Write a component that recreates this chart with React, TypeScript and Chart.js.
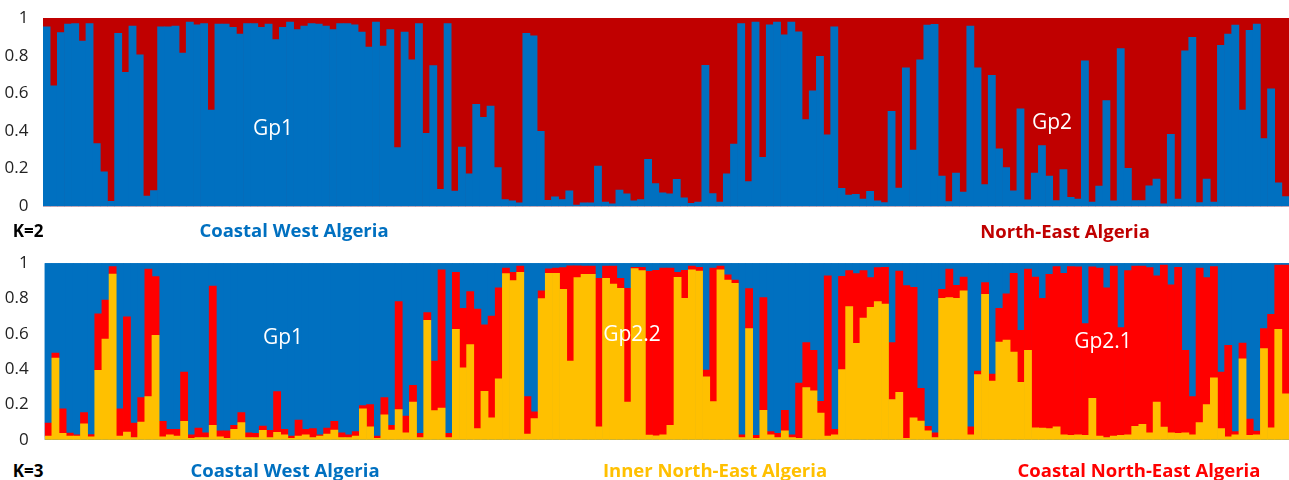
import React, { useEffect, useRef } from "react";
import { Chart, registerables } from "chart.js";

Chart.register(...registerables);

// ---------- DATA ----------
// K=2 : proportion of cluster "Gp1" (blue) per individual; remainder is Gp2 (dark red)
const k2Blue: number[] = [
  0.953, 0.64, 0.923, 0.968, 0.971, 0.878, 0.971, 0.333, 0.183, 0.027,
  0.918, 0.711, 0.957, 0.805, 0.054, 0.084, 0.953, 0.953, 0.957, 0.814,
  0.978, 0.964, 0.971, 0.511, 0.968, 0.968, 0.95, 0.914, 0.971, 0.971,
  0.95, 0.968, 0.885, 0.95, 0.978, 0.939, 0.957, 0.971, 0.968, 0.957,
  0.939, 0.971, 0.971, 0.964, 0.925, 0.846, 0.978, 0.851, 0.939, 0.312,
  0.925, 0.778, 0.971, 0.387, 0.747, 0.09, 0.971, 0.081, 0.315, 0.172,
  0.541, 0.473, 0.532, 0.206, 0.036, 0.029, 0.018, 0.919, 0.905, 0.398,
  0.032, 0.05, 0.036, 0.082, 0.007, 0.018, 0.018, 0.213, 0.022, 0.013,
  0.086, 0.066, 0.029, 0.036, 0.249, 0.12, 0.072, 0.066, 0.143, 0.045,
  0.016, 0.022, 0.749, 0.068, 0.023, 0.172, 0.33, 0.971, 0.131, 0.978,
  0.26, 0.964, 0.978, 0.91, 0.978, 0.927, 0.461, 0.613, 0.797, 0.38,
  0.953, 0.095, 0.059, 0.063, 0.039, 0.079, 0.029, 0.02, 0.505, 0.097,
  0.735, 0.299, 0.778, 0.962, 0.966, 0.161, 0.025, 0.177, 0.075, 0.957,
  0.735, 0.116, 0.695, 0.305, 0.206, 0.082, 0.518, 0.034, 0.177, 0.323,
  0.161, 0.03, 0.195, 0.048, 0.038, 0.772, 0.023, 0.108, 0.561, 0.029,
  0.837, 0.201, 0.03, 0.03, 0.109, 0.145, 0.013, 0.382, 0.039, 0.826,
  0.898, 0.02, 0.145, 0.023, 0.855, 0.914, 0.962, 0.511, 0.935, 0.968,
  0.36, 0.624, 0.124, 0.052,
];

// K=3 : yellow (Gp2.2) proportion, at the bottom of each bar
const k3Yellow: number[] = [
  0.021, 0.463, 0.036, 0.021, 0.021, 0.091, 0.017, 0.393, 0.571, 0.939,
  0.021, 0.044, 0.013, 0.1, 0.245, 0.592, 0.017, 0.028, 0.021, 0.104,
  0.009, 0.013, 0.013, 0.082, 0.017, 0.009, 0.059, 0.097, 0.013, 0.013,
  0.053, 0.013, 0.042, 0.028, 0.009, 0.021, 0.028, 0.013, 0.021, 0.032,
  0.055, 0.013, 0.013, 0.021, 0.175, 0.074, 0.009, 0.142, 0.055, 0.171,
  0.04, 0.213, 0.013, 0.676, 0.165, 0.18, 0.013, 0.626, 0.408, 0.539,
  0.063, 0.275, 0.125, 0.345, 0.941, 0.901, 0.949, 0.032, 0.12, 0.799,
  0.943, 0.943, 0.852, 0.446, 0.918, 0.937, 0.937, 0.074, 0.915, 0.882,
  0.858, 0.213, 0.97, 0.958, 0.027, 0.023, 0.028, 0.082, 0.92, 0.801,
  0.962, 0.956, 0.357, 0.216, 0.962, 0.905, 0.886, 0.013, 0.63, 0.009,
  0.167, 0.028, 0.013, 0.051, 0.013, 0.009, 0.296, 0.277, 0.152, 0.021,
  0.028, 0.397, 0.755, 0.546, 0.689, 0.75, 0.782, 0.769, 0.228, 0.269,
  0.009, 0.125, 0.106, 0.051, 0.013, 0.801, 0.805, 0.801, 0.844, 0.028,
  0.37, 0.824, 0.332, 0.554, 0.564, 0.497, 0.326, 0.507, 0.068, 0.066,
  0.063, 0.074, 0.028, 0.025, 0.028, 0.025, 0.235, 0.021, 0.013, 0.021,
  0.025, 0.028, 0.076, 0.087, 0.04, 0.213, 0.072, 0.04, 0.036, 0.04,
  0.028, 0.097, 0.199, 0.351, 0.063, 0.017, 0.028, 0.459, 0.025, 0.028,
  0.516, 0.068, 0.626, 0.26,
];

// K=3 : cumulative top of the red (Gp2.1) segment (yellow + red); remainder is blue (Gp1)
const k3RedTop: number[] = [
  0.095, 0.491, 0.176, 0.038, 0.028, 0.154, 0.03, 0.713, 0.791, 0.981,
  0.176, 0.696, 0.095, 0.239, 0.966, 0.924, 0.104, 0.059, 0.059, 0.383,
  0.028, 0.066, 0.04, 0.871, 0.051, 0.051, 0.082, 0.154, 0.04, 0.036,
  0.078, 0.053, 0.273, 0.059, 0.021, 0.112, 0.059, 0.063, 0.028, 0.066,
  0.104, 0.04, 0.028, 0.047, 0.194, 0.2, 0.021, 0.239, 0.082, 0.782,
  0.135, 0.309, 0.036, 0.721, 0.446, 0.962, 0.036, 0.949, 0.744, 0.839,
  0.74, 0.651, 0.7, 0.861, 0.972, 0.949, 0.983, 0.245, 0.159, 0.844,
  0.968, 0.973, 0.975, 0.985, 0.985, 0.983, 0.983, 0.915, 0.983, 0.983,
  0.915, 0.858, 0.977, 0.977, 0.954, 0.96, 0.972, 0.972, 0.949, 0.96,
  0.983, 0.977, 0.395, 0.972, 0.983, 0.934, 0.905, 0.028, 0.856, 0.025,
  0.805, 0.047, 0.036, 0.167, 0.028, 0.321, 0.55, 0.507, 0.218, 0.928,
  0.059, 0.926, 0.958, 0.941, 0.958, 0.918, 0.975, 0.977, 0.55, 0.956,
  0.873, 0.863, 0.292, 0.076, 0.04, 0.852, 0.966, 0.875, 0.922, 0.074,
  0.389, 0.89, 0.372, 0.744, 0.827, 0.943, 0.62, 0.966, 0.922, 0.801,
  0.937, 0.981, 0.943, 0.981, 0.979, 0.658, 0.979, 0.972, 0.861, 0.983,
  0.636, 0.958, 0.983, 0.983, 0.975, 0.928, 0.99, 0.877, 0.977, 0.507,
  0.245, 0.972, 0.918, 0.981, 0.383, 0.535, 0.047, 0.548, 0.118, 0.049,
  0.63, 0.71, 0.99, 0.99,
];

const individuals: string[] = k2Blue.map((_, i) => String(i + 1));
const yTickValues: number[] = [0, 0.2, 0.4, 0.6, 0.8, 1];
const yTickLabels: string[] = ["0", "0.2", "0.4", "0.6", "0.8", "1"];

// derived segments for stacking
const k2Red = k2Blue.map((v) => 1 - v);
const k3Red = k3RedTop.map((v, i) => v - k3Yellow[i]);
const k3Blue = k3RedTop.map((v) => 1 - v);

const BLUE = "#0070C0";
const DARKRED = "#C00000";
const RED = "#FF0000";
const YELLOW = "#FFC000";
const FONT = "'Open Sans', 'Liberation Sans', sans-serif";

type Panel = {
  datasets: { label: string; data: number[]; color: string }[];
  fill: string;
  axisWidth: number;
  tickPad: number;
};

function StructureChart({ panel, width, height }: { panel: Panel; width: number; height: number }) {
  const ref = useRef<HTMLCanvasElement | null>(null);
  useEffect(() => {
    if (!ref.current) return;
    const bgPlugin = {
      id: "areaFill",
      beforeDatasetsDraw(chart: any) {
        const { ctx, chartArea } = chart;
        ctx.save();
        ctx.fillStyle = panel.fill;
        ctx.fillRect(chartArea.left, chartArea.top, chartArea.right - chartArea.left, chartArea.bottom - chartArea.top);
        ctx.restore();
      },
    };
    const chart = new Chart(ref.current, {
      type: "bar",
      data: {
        labels: individuals,
        datasets: panel.datasets.map((d) => ({
          label: d.label,
          data: d.data,
          backgroundColor: d.color,
          borderWidth: 0,
          categoryPercentage: 1,
          barPercentage: 1,
        })),
      },
      options: {
        animation: false,
        responsive: false,
        maintainAspectRatio: false,
        layout: { padding: { top: 18, bottom: 11, left: 0, right: 0 } },
        plugins: { legend: { display: false }, tooltip: { enabled: false } },
        scales: {
          x: { stacked: true, display: false },
          y: {
            stacked: true,
            min: 0,
            max: 1,
            grid: { display: false },
            border: { display: false },
            afterBuildTicks: (scale: any) => {
              scale.ticks = yTickValues.map((v) => ({ value: v }));
            },
            afterFit: (scale: any) => {
              scale.width = panel.axisWidth;
            },
            ticks: {
              padding: panel.tickPad,
              color: "#222",
              font: { family: FONT, size: 17 },
              callback: (v: any) => {
                const idx = yTickValues.findIndex((t) => Math.abs(t - Number(v)) < 1e-6);
                return idx >= 0 ? yTickLabels[idx] : "";
              },
            },
          },
        },
      },
      plugins: [bgPlugin],
    });
    return () => chart.destroy();
  }, [panel]);
  return <canvas ref={ref} width={width} height={height} style={{ display: "block", width, height }} />;
}

const topPanel: Panel = {
  datasets: [
    { label: "Gp1", data: k2Blue, color: BLUE },
    { label: "Gp2", data: k2Red, color: DARKRED },
  ],
  fill: DARKRED,
  axisWidth: 43,
  tickPad: 6.5,
};

const bottomPanel: Panel = {
  datasets: [
    { label: "Gp2.2", data: k3Yellow, color: YELLOW },
    { label: "Gp2.1", data: k3Red, color: RED },
    { label: "Gp1", data: k3Blue, color: BLUE },
  ],
  fill: BLUE,
  axisWidth: 44.7,
  tickPad: 8,
};

function Label({ x, y, text, color, size, bold }: { x: number; y: number; text: string; color: string; size: number; bold?: boolean }) {
  return (
    <div
      style={{
        position: "absolute",
        left: x,
        top: y,
        transform: "translate(-50%, -50%)",
        whiteSpace: "nowrap",
        fontFamily: FONT,
        fontSize: size,
        fontWeight: bold ? 700 : 400,
        color,
        lineHeight: 1,
      }}
    >
      {text}
    </div>
  );
}

export default function App() {
  return (
    <div style={{ position: "absolute", left: 0, top: 0, width: 1289, height: 480, background: "#fff", overflow: "hidden" }}>
      <div style={{ position: "absolute", left: 0, top: 0 }}>
        <StructureChart panel={topPanel} width={1289} height={223} />
      </div>
      <div style={{ position: "absolute", left: 0, top: 245 }}>
        <StructureChart panel={bottomPanel} width={1289} height={213} />
      </div>
      <Label x={273} y={127} text="Gp1" color="#fff" size={21} />
      <Label x={1052} y={121} text="Gp2" color="#fff" size={21} />
      <Label x={283} y={336} text="Gp1" color="#fff" size={21} />
      <Label x={632} y={333} text="Gp2.2" color="#fff" size={21} />
      <Label x={1103} y={340} text="Gp2.1" color="#fff" size={21} />

      <Label x={28} y={230} text="K=2" color="#000" size={17} bold />
      <Label x={294} y={230} text="Coastal West Algeria" color={BLUE} size={18.5} bold />
      <Label x={1065} y={231} text="North-East Algeria" color={DARKRED} size={18.5} bold />

      <Label x={28} y={470} text="K=3" color="#000" size={17} bold />
      <Label x={285} y={470} text="Coastal West Algeria" color={BLUE} size={18.5} bold />
      <Label x={715} y={470} text="Inner North-East Algeria" color={YELLOW} size={18.5} bold />
      <Label x={1139} y={470} text="Coastal North-East Algeria" color={RED} size={18.5} bold />
    </div>
  );
}
